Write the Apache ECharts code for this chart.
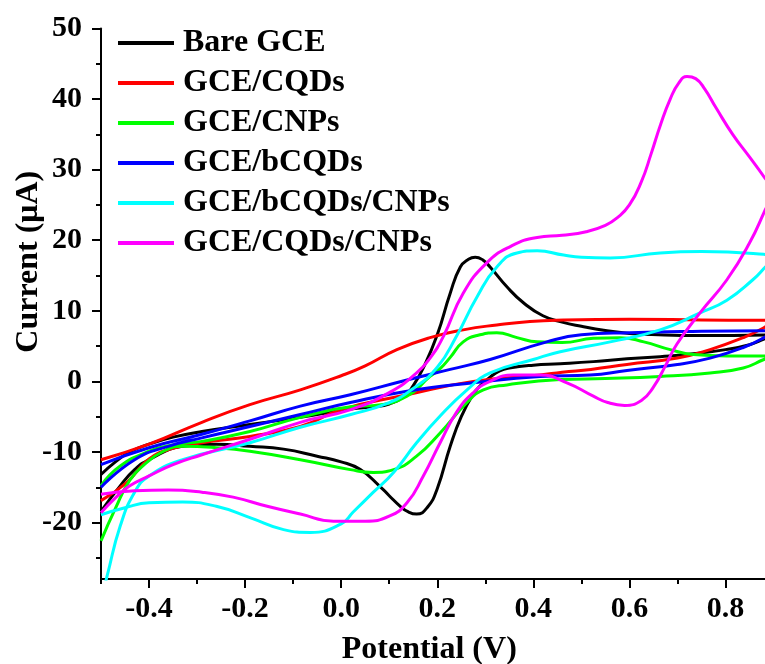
<!DOCTYPE html>
<html>
<head>
<meta charset="utf-8">
<script src="https://cdn.jsdelivr.net/npm/echarts@6/dist/echarts.min.js"></script>
<style>
  html, body { margin: 0; padding: 0; background: #fff; }
  #chart { width: 765px; height: 664px; }
</style>
</head>
<body>
<div id="chart"></div>
<script>
// Cyclic voltammograms: [potential (V), current (µA)], forward scan then reverse scan.
const bareGCE = [
  [-0.5,-13.2],[-0.47,-11.4],[-0.44,-10.0],[-0.4,-8.9],[-0.35,-7.9],[-0.29,-7.1],[-0.19,-6.1],
  [-0.085,-5.1],[0.02,-3.9],[0.07,-3.6],[0.1,-3.2],[0.13,-2.2],[0.15,-0.6],[0.171,1.9],[0.2,6.6],
  [0.227,12.5],[0.248,16.2],[0.265,17.3],[0.279,17.6],[0.295,17.2],[0.31,16.2],[0.345,13.4],
  [0.38,11.1],[0.42,9.3],[0.46,8.4],[0.5,7.8],[0.55,7.2],[0.6,6.8],[0.66,6.6],[0.75,6.5],
  [0.9,6.6],
  [0.88,6.0],[0.85,5.2],[0.8,4.5],[0.733,3.9],[0.664,3.5],[0.595,3.2],[0.525,2.8],[0.456,2.5],
  [0.4,2.3],[0.35,1.9],[0.33,1.5],[0.31,0.6],[0.29,-0.6],[0.275,-1.8],[0.25,-5.0],[0.227,-9.2],
  [0.2,-15.2],[0.18,-17.8],[0.157,-18.8],[0.14,-18.5],[0.123,-17.7],[0.1,-16.2],[0.081,-14.9],
  [0.04,-12.5],[0.0,-11.4],[-0.05,-10.6],[-0.12,-9.6],[-0.19,-9.2],[-0.26,-8.9],[-0.33,-9.2],
  [-0.4,-11.1],[-0.43,-12.5],[-0.46,-14.8],[-0.5,-18.4]
];
const gceCQDs = [
  [-0.5,-11.1],[-0.4,-8.9],[-0.29,-5.8],[-0.19,-3.3],[-0.085,-1.2],[0.0,0.8],[0.05,2.2],
  [0.116,4.5],[0.185,6.2],[0.254,7.3],[0.324,8.0],[0.393,8.5],[0.463,8.7],[0.6,8.8],[0.75,8.7],
  [0.9,8.6],
  [0.88,7.6],[0.837,6.2],[0.768,4.5],[0.7,3.3],[0.595,2.4],[0.52,1.7],[0.46,1.3],[0.414,0.9],
  [0.275,0.0],[0.137,-1.9],[0.0,-4.0],[-0.085,-6.4],[-0.19,-7.8],[-0.29,-8.7],[-0.35,-9.5],
  [-0.4,-11.0],[-0.446,-14.3],[-0.5,-16.9]
];
const gceCNPs = [
  [-0.5,-14.8],[-0.46,-12.0],[-0.4,-9.9],[-0.35,-9.0],[-0.29,-8.5],[-0.19,-7.1],[-0.085,-5.1],
  [0.02,-3.6],[0.07,-3.4],[0.137,-2.1],[0.185,0.7],[0.206,1.8],[0.227,3.4],[0.254,5.6],
  [0.289,6.6],[0.324,6.9],[0.366,6.2],[0.408,5.6],[0.46,5.5],[0.525,6.1],[0.58,6.2],[0.63,5.6],
  [0.685,4.5],[0.733,3.8],[0.803,3.6],[0.9,3.6],
  [0.88,3.1],[0.837,1.9],[0.768,1.2],[0.664,0.7],[0.55,0.4],[0.456,0.25],[0.345,-0.5],
  [0.296,-1.2],[0.262,-3.0],[0.206,-7.3],[0.157,-10.6],[0.109,-12.5],[0.067,-12.9],[0.019,-12.5],
  [-0.085,-11.1],[-0.19,-9.9],[-0.26,-9.4],[-0.33,-9.2],[-0.37,-9.9],[-0.41,-11.8],[-0.44,-14.0],
  [-0.47,-18.0],[-0.5,-22.6]
];
const gceBCQDs = [
  [-0.5,-11.8],[-0.4,-9.4],[-0.29,-7.5],[-0.19,-5.6],[-0.085,-3.5],[0.019,-1.9],[0.137,0.2],
  [0.227,1.7],[0.31,3.1],[0.428,5.6],[0.5,6.6],[0.6,6.9],[0.75,7.1],[0.9,7.2],
  [0.88,6.2],[0.837,4.8],[0.768,3.3],[0.7,2.4],[0.595,1.55],[0.518,0.9],[0.414,0.7],[0.275,-0.2],
  [0.137,-1.4],[0.019,-3.0],[-0.085,-4.7],[-0.19,-6.4],[-0.29,-8.0],[-0.36,-9.2],[-0.43,-11.1],
  [-0.5,-15.0]
];
const gceBCQDsCNPs = [
  [-0.5,-31.0],[-0.487,-27.5],[-0.46,-20.5],[-0.43,-15.7],[-0.4,-13.4],[-0.33,-11.1],
  [-0.19,-8.7],[-0.085,-6.5],[0.02,-4.7],[0.1,-3.0],[0.15,-1.0],[0.2,2.0],[0.24,6.4],
  [0.283,12.0],[0.324,16.2],[0.366,18.2],[0.408,18.5],[0.463,17.9],[0.5,17.6],[0.56,17.5],
  [0.664,18.2],[0.75,18.4],[0.88,18.0],[0.9,17.6],
  [0.88,16.0],[0.857,14.4],[0.803,11.5],[0.747,9.7],[0.664,7.3],[0.56,5.6],[0.456,4.2],
  [0.4,3.1],[0.31,1.2],[0.262,-1.2],[0.206,-4.9],[0.157,-8.7],[0.109,-12.9],[0.067,-15.7],
  [0.025,-18.5],[0.0,-20.2],[-0.064,-21.4],[-0.12,-21.0],[-0.19,-19.3],[-0.26,-17.7],
  [-0.33,-17.1],[-0.4,-17.2],[-0.45,-17.9],[-0.5,-18.9]
];
const gceCQDsCNPs = [
  [-0.5,-18.6],[-0.47,-16.5],[-0.44,-14.8],[-0.4,-13.4],[-0.35,-11.8],[-0.29,-10.4],
  [-0.19,-8.2],[-0.085,-5.8],[0.02,-4.0],[0.1,-1.6],[0.157,1.2],[0.185,3.3],[0.213,6.4],
  [0.254,12.5],[0.303,16.8],[0.352,19.1],[0.408,20.4],[0.46,20.7],[0.51,21.2],[0.55,22.1],
  [0.575,23.2],[0.6,25.0],[0.625,28.3],[0.645,32.2],[0.665,36.4],[0.685,40.0],[0.703,42.3],
  [0.72,43.2],[0.738,42.9],[0.757,41.4],[0.78,38.8],[0.815,35.0],[0.85,31.8],[0.88,29.0],
  [0.9,27.0],
  [0.882,24.2],[0.85,19.6],[0.803,14.4],[0.747,9.7],[0.699,5.3],[0.675,2.2],[0.65,-0.8],
  [0.625,-2.7],[0.59,-3.4],[0.555,-3.0],[0.525,-2.1],[0.47,-0.2],[0.414,0.9],[0.358,0.9],
  [0.31,0.0],[0.275,-1.6],[0.24,-4.4],[0.206,-8.7],[0.171,-13.4],[0.137,-17.2],[0.1,-19.1],
  [0.05,-19.8],[-0.016,-19.8],[-0.085,-18.8],[-0.154,-17.7],[-0.225,-16.4],[-0.29,-15.7],
  [-0.36,-15.4],[-0.43,-15.5],[-0.5,-16.0]
];

const seriesNames = ['Bare GCE', 'GCE/CQDs', 'GCE/CNPs', 'GCE/bCQDs', 'GCE/bCQDs/CNPs', 'GCE/CQDs/CNPs'];
const seriesData = [bareGCE, gceCQDs, gceCNPs, gceBCQDs, gceBCQDsCNPs, gceCQDsCNPs];
const seriesColors = ['#000000', '#ff0000', '#00ff00', '#0000ff', '#00ffff', '#ff00ff'];

const xMajorTicks = [-0.4, -0.2, 0.0, 0.2, 0.4, 0.6, 0.8];
const xMinorTicks = [-0.5, -0.3, -0.1, 0.1, 0.3, 0.5, 0.7, 0.9];
const yMajorTicks = [-20, -10, 0, 10, 20, 30, 40, 50];
const yMinorTicks = [-25, -15, -5, 5, 15, 25, 35, 45];

const FONT = '"Liberation Serif", "Times New Roman", serif';
const xRange = { min: -0.5, max: 0.9 };
const yRange = { min: -28, max: 50 };

const chart = echarts.init(document.getElementById('chart'), null, { renderer: 'canvas' });

const axisLineStyle = { color: '#000', width: 2 };

chart.setOption({
  animation: false,
  backgroundColor: '#ffffff',
  grid: { left: 101, right: -8.5, top: 28.5, bottom: 85, outerBoundsMode: 'none', containLabel: false },
  legend: {
    orient: 'vertical',
    left: 113,
    top: 22,
    itemWidth: 56,
    itemHeight: 4,
    itemGap: 8,
    icon: 'rect',
    data: seriesNames,
    textStyle: {
      fontFamily: FONT, fontWeight: 'bold', fontSize: 32, color: '#000',
      lineHeight: 32, padding: [0, 0, 0, 4]
    }
  },
  xAxis: [
    {
      type: 'value', min: xRange.min, max: xRange.max,
      name: 'Potential (V)', nameLocation: 'middle', nameGap: 55, nameMoveOverlap: false,
      nameTextStyle: { fontFamily: FONT, fontWeight: 'bold', fontSize: 32, color: '#000', padding: [0, 16, 0, 0] },
      axisLine: { show: true, onZero: false, lineStyle: axisLineStyle },
      axisTick: { show: true, inside: false, length: 9, lineStyle: { color: '#000', width: 2 }, customValues: xMajorTicks },
      axisLabel: {
        customValues: xMajorTicks, margin: 15, color: '#000',
        fontFamily: FONT, fontWeight: 'bold', fontSize: 30,
        formatter: v => v.toFixed(1)
      },
      splitLine: { show: false }
    },
    {
      type: 'value', min: xRange.min, max: xRange.max, position: 'bottom',
      axisLine: { show: false, onZero: false },
      axisTick: { show: true, inside: false, length: 5, lineStyle: { color: '#000', width: 2 }, customValues: xMinorTicks },
      axisLabel: { show: false },
      splitLine: { show: false }
    }
  ],
  yAxis: [
    {
      type: 'value', min: yRange.min, max: yRange.max,
      name: 'Current (μA)', nameLocation: 'middle', nameGap: 56, nameRotate: 90, nameMoveOverlap: false,
      nameTextStyle: { fontFamily: FONT, fontWeight: 'bold', fontSize: 32, color: '#000', padding: [0, 0, 0, 84] },
      axisLine: { show: true, onZero: false, lineStyle: axisLineStyle },
      axisTick: { show: true, inside: false, length: 9, lineStyle: { color: '#000', width: 2 }, customValues: yMajorTicks },
      axisLabel: {
        customValues: yMajorTicks, margin: 19, color: '#000',
        fontFamily: FONT, fontWeight: 'bold', fontSize: 30
      },
      splitLine: { show: false }
    },
    {
      type: 'value', min: yRange.min, max: yRange.max, position: 'left',
      axisLine: { show: false, onZero: false },
      axisTick: { show: true, inside: false, length: 5, lineStyle: { color: '#000', width: 2 }, customValues: yMinorTicks },
      axisLabel: { show: false },
      splitLine: { show: false }
    }
  ],
  series: seriesNames.map((name, i) => ({
    name: name,
    type: 'line',
    xAxisIndex: 0,
    yAxisIndex: 0,
    data: seriesData[i],
    smooth: 0.5,
    showSymbol: false,
    symbol: 'none',
    clip: true,
    color: seriesColors[i],
    lineStyle: { color: seriesColors[i], width: 3 }
  }))
});
</script>
</body>
</html>
